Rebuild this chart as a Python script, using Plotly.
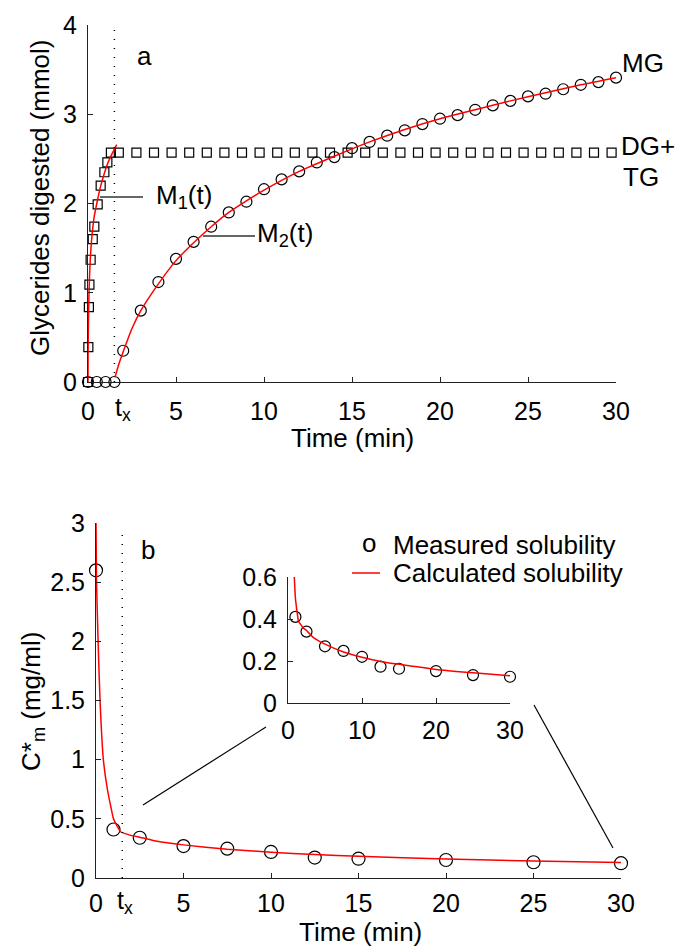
import plotly.graph_objects as go

W, H = 676, 946

# ---------------- Panel a data ----------------
tx = 1.5
# DG+TG (squares)
dg_t = [0, 0.02, 0.05, 0.08, 0.15, 0.27, 0.36, 0.55, 0.72, 0.93, 1.1, 1.3,
        1.75, 2.75, 3.75, 4.75, 5.75, 6.75, 7.75, 8.75, 9.75, 10.75, 11.75,
        12.75, 13.75, 14.75, 15.75, 16.75, 17.75, 18.75, 19.75, 20.75, 21.75,
        22.75, 23.75, 24.75, 25.75, 26.75, 27.75, 28.75, 29.75]
dg_v = [0, 0.39, 0.84, 1.09, 1.37, 1.60, 1.74, 1.99, 2.20, 2.35, 2.46, 2.57,
        2.57, 2.57, 2.57, 2.57, 2.57, 2.57, 2.57, 2.57, 2.57, 2.57, 2.57,
        2.57, 2.57, 2.57, 2.57, 2.57, 2.57, 2.57, 2.57, 2.57, 2.57,
        2.57, 2.57, 2.57, 2.57, 2.57, 2.57, 2.57, 2.57]
# MG (circles)
mg_t = [0, 0.5, 1, 1.5, 2, 3, 4, 5, 6, 7, 8, 9, 10, 11, 12, 13, 14, 15, 16,
        17, 18, 19, 20, 21, 22, 23, 24, 25, 26, 27, 28, 29, 30]
mg_v = [0, 0, 0, 0, 0.35, 0.80, 1.12, 1.38, 1.57, 1.74, 1.90, 2.02, 2.16,
        2.27, 2.36, 2.46, 2.52, 2.62, 2.69, 2.76, 2.82, 2.89, 2.95, 2.99,
        3.05, 3.10, 3.15, 3.20, 3.23, 3.28, 3.33, 3.36, 3.41]
# M1(t) fitted curve
m1_t = [0, 0.005, 0.02, 0.05, 0.1, 0.2, 0.35, 0.5, 0.7, 0.9, 1.1, 1.35, 1.63]
m1_v = [0, 0.3, 0.6, 0.95, 1.25, 1.58, 1.85, 2.0, 2.18, 2.32, 2.44, 2.55, 2.66]
# M2(t) fitted curve
m2_t = [1.53, 1.75, 2, 2.5, 3, 4, 5, 6, 7, 8, 9, 10, 12, 14, 16, 18, 20, 22,
        24, 26, 28, 30]
m2_v = [0.05, 0.2, 0.34, 0.6, 0.8, 1.1, 1.36, 1.56, 1.74, 1.9, 2.03, 2.15,
        2.36, 2.53, 2.69, 2.83, 2.95, 3.05, 3.15, 3.24, 3.33, 3.41]

# ---------------- Panel b data ----------------
sol_t = [0, 1, 2.5, 5, 7.5, 10, 12.5, 15, 20, 25, 30]
sol_v = [2.6, 0.41, 0.34, 0.27, 0.248, 0.22, 0.173, 0.163, 0.152, 0.133, 0.125]
# calculated solubility, before and after tx
calc_t1 = [0, 0.03, 0.12, 0.23, 0.42, 0.65, 0.85, 1.0, 1.2, 1.4]
calc_v1 = [3.0, 2.5, 2.0, 1.5, 1.0, 0.75, 0.6, 0.5, 0.44, 0.39]
calc_t2 = [1.4, 2, 2.5, 3.5, 5, 7.5, 10, 12.5, 15, 20, 25, 30]
calc_v2 = [0.39, 0.36, 0.345, 0.31, 0.28, 0.243, 0.218, 0.198, 0.184, 0.16,
           0.144, 0.13]

# tick values
a_xticks = [0, 5, 10, 15, 20, 25, 30]
a_yticks = [0, 1, 2, 3, 4]
b_xticks = [0, 5, 10, 15, 20, 25, 30]
b_yticks = [0, 0.5, 1, 1.5, 2, 2.5, 3]
b_yticklabels = ["0", "0.5", "1", "1.5", "2", "2.5", "3"]
in_xticks = [0, 10, 20, 30]
in_yticks = [0, 0.2, 0.4, 0.6]
in_yticklabels = ["0", "0.2", "0.4", "0.6"]

FONT = "Liberation Sans, Arial, Helvetica, sans-serif"
RED = "#ff0000"
AX = "#222222"


def px(x):
    return x / W


def py(y):
    return 1 - y / H


fig = go.Figure()

# ---- panel a ----
fig.add_trace(go.Scatter(x=dg_t, y=dg_v, mode="markers", cliponaxis=False,
                         marker=dict(symbol="square-open", size=9, color="black",
                                     line=dict(width=1.2, color="black")),
                         xaxis="x", yaxis="y", showlegend=False))
fig.add_trace(go.Scatter(x=mg_t, y=mg_v, mode="markers", cliponaxis=False,
                         marker=dict(symbol="circle-open", size=11, color="black",
                                     line=dict(width=1.2, color="black")),
                         xaxis="x", yaxis="y", showlegend=False))
fig.add_trace(go.Scatter(x=m1_t, y=m1_v, mode="lines",
                         line=dict(color=RED, width=1.5, shape="spline", smoothing=0.5),
                         xaxis="x", yaxis="y", showlegend=False))
fig.add_trace(go.Scatter(x=m2_t, y=m2_v, mode="lines",
                         line=dict(color=RED, width=1.5, shape="spline", smoothing=0.6),
                         xaxis="x", yaxis="y", showlegend=False))

# ---- panel b ----
fig.add_trace(go.Scatter(x=sol_t, y=sol_v, mode="markers", cliponaxis=False,
                         marker=dict(symbol="circle-open", size=13, color="black",
                                     line=dict(width=1.2, color="black")),
                         xaxis="x2", yaxis="y2", showlegend=False))
for tt, vv in ((calc_t1, calc_v1), (calc_t2, calc_v2)):
    fig.add_trace(go.Scatter(x=tt, y=vv, mode="lines",
                             line=dict(color=RED, width=1.5, shape="spline", smoothing=0.5),
                             xaxis="x2", yaxis="y2", showlegend=False))

# ---- inset ----
fig.add_trace(go.Scatter(x=sol_t[1:], y=sol_v[1:], mode="markers", cliponaxis=False,
                         marker=dict(symbol="circle-open", size=11, color="black",
                                     line=dict(width=1.2, color="black")),
                         xaxis="x3", yaxis="y3", showlegend=False))
for tt, vv in ((calc_t1, calc_v1), (calc_t2, calc_v2)):
    fig.add_trace(go.Scatter(x=tt, y=vv, mode="lines",
                             line=dict(color=RED, width=1.5, shape="spline", smoothing=0.5),
                             xaxis="x3", yaxis="y3", showlegend=False))


def axis(domain, rng, tickvals, ticktext=None, anchor=None, standoff=4, size=25):
    d = dict(domain=domain, range=rng, tickvals=tickvals, showline=True,
             linecolor=AX, linewidth=1, ticks="inside", ticklen=5, tickcolor=AX,
             tickwidth=1, showgrid=False, zeroline=False, mirror=False,
             tickfont=dict(family=FONT, size=size, color="black"),
             ticklabelstandoff=standoff, fixedrange=True, automargin=False)
    if ticktext is not None:
        d["ticktext"] = ticktext
    if anchor:
        d["anchor"] = anchor
    return d


fig.update_layout(
    width=W, height=H, margin=dict(l=0, r=0, t=0, b=0, autoexpand=False),
    paper_bgcolor="white", plot_bgcolor="rgba(0,0,0,0)",
    font=dict(family=FONT, size=25, color="black"),
    xaxis=axis([px(88), px(616)], [0, 30], a_xticks, anchor="y", standoff=7),
    yaxis=axis([py(382), py(25)], [0, 4], a_yticks, anchor="x", standoff=5),
    xaxis2=axis([px(96), px(621)], [0, 30], b_xticks, anchor="y2", standoff=3),
    yaxis2=axis([py(878), py(523)], [0, 3], b_yticks, b_yticklabels, anchor="x2", standoff=5),
    xaxis3=axis([px(288), px(510)], [0, 30], in_xticks, anchor="y3", standoff=5),
    yaxis3=axis([py(703), py(577)], [0, 0.6], in_yticks, in_yticklabels, anchor="x3", standoff=5),
)

DOT = dict(color="black", width=1.5, dash="1px,8px")
shapes = [
    # tx dotted lines
    dict(type="line", xref="x", yref="y", x0=tx, x1=tx, y0=0, y1=3.95, line=DOT),
    dict(type="line", xref="x2", yref="y2", x0=tx, x1=tx, y0=0, y1=2.92, line=DOT),
    # label leader lines
    dict(type="line", xref="paper", yref="paper", x0=px(100), x1=px(143),
         y0=py(197), y1=py(197), line=dict(color="#333333", width=1.5)),
    dict(type="line", xref="paper", yref="paper", x0=px(203), x1=px(255),
         y0=py(236), y1=py(236), line=dict(color="#333333", width=1.5)),
    # inset connector lines
    dict(type="line", xref="paper", yref="paper", x0=px(143), x1=px(266),
         y0=py(805), y1=py(727), line=dict(color="black", width=1.2)),
    dict(type="line", xref="paper", yref="paper", x0=px(534), x1=px(613),
         y0=py(705), y1=py(848), line=dict(color="black", width=1.2)),
    # legend line sample
    dict(type="line", xref="paper", yref="paper", x0=px(352), x1=px(380),
         y0=py(573), y1=py(573), line=dict(color=RED, width=1.5)),
]
fig.update_layout(shapes=shapes)


def ann(text, x, y, xanchor="left", yanchor="middle", size=26, angle=0):
    return dict(text=text, x=px(x), y=py(y), xref="paper", yref="paper",
                xanchor=xanchor, yanchor=yanchor, showarrow=False, textangle=angle,
                font=dict(family=FONT, size=size, color="black"), borderpad=0)


annotations = [
    ann("a", 144, 56, xanchor="center"),
    ann("b", 148, 550, xanchor="center"),
    ann("MG", 621, 63),
    ann("DG+", 620, 146),
    ann("TG", 622, 177),
    ann("M<sub>1</sub>(t)", 155, 196),
    ann("M<sub>2</sub>(t)", 256, 234),
    ann("t<sub>x</sub>", 114, 409, size=25),
    ann("t<sub>x</sub>", 116, 902, size=25),
    ann("Time (min)", 352, 438, xanchor="center"),
    ann("Time (min)", 360, 932, xanchor="center"),
    ann("Glycerides digested (mmol)", 40, 198, xanchor="center", angle=-90),
    ann("C*<sub>m</sub> (mg/ml)", 32, 702, xanchor="center", angle=-90),
    ann("o", 369, 543, xanchor="center"),
    ann("Measured solubility", 392, 545),
    ann("Calculated solubility", 392, 573),
]
fig.update_layout(annotations=annotations)

fig.write_html(
    "out.html",
    config={"displayModeBar": False, "responsive": False},
    post_script="document.body.style.margin='0px';document.body.style.overflow='hidden';",
)
